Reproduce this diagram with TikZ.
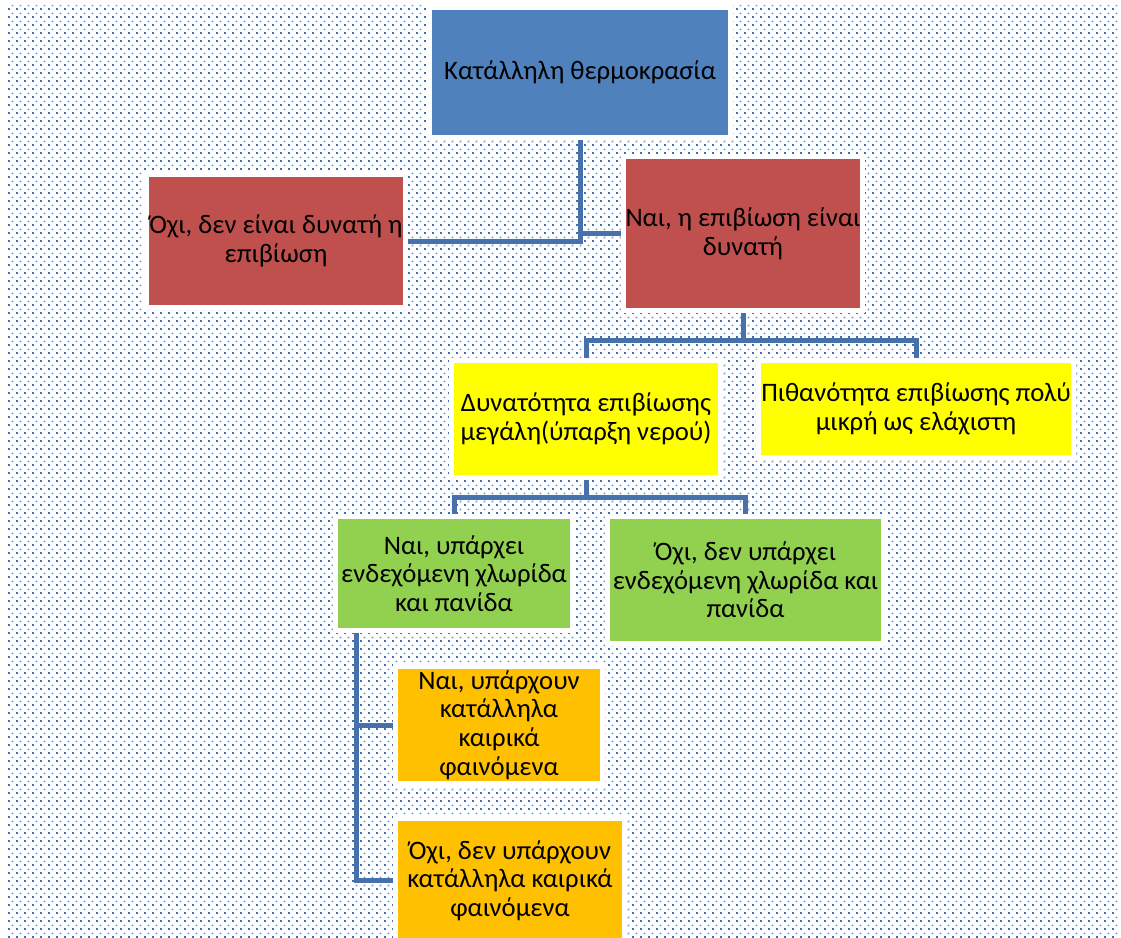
\documentclass[tikz,border=0pt]{standalone}
\usepackage{fontspec}
\setmainfont{Carlito}
\usetikzlibrary{patterns.meta}

\newdimen\px \px=0.75pt

\definecolor{boxblue}{RGB}{79,129,189}
\definecolor{boxred}{RGB}{192,80,77}
\definecolor{boxyellow}{RGB}{255,255,0}
\definecolor{boxgreen}{RGB}{146,208,80}
\definecolor{boxorange}{RGB}{255,192,0}
\definecolor{linkblue}{RGB}{72,112,170}
\definecolor{dotdark}{RGB}{60,110,185}
\definecolor{dotlight}{RGB}{115,155,210}

% dotted paper texture behind the chart
\tikzdeclarepattern{
  name=bgdots, type=colored,
  bounding box={(0pt,0pt) and (6pt,6pt)},
  tile size={(6pt,6pt)},
  code={
    \fill[dotdark] (0pt,0pt) rectangle (1.6pt,1.6pt);
    \fill[dotlight] (3pt,3pt) rectangle (4.5pt,4.5pt);
  }
}

\pgfdeclarelayer{bg}
\pgfdeclarelayer{links}
\pgfsetlayers{bg,links,main}

\begin{document}
\begin{tikzpicture}[x=0.75pt,y=-0.75pt,
  box/.style={draw=white, line width=5\px, inner sep=0pt, align=center,
    text=black, font=\fontsize{20}{21.5}\selectfont},
  link/.style={draw=linkblue, line width=5\px}]
\useasboundingbox (0,0) rectangle (1121,938);

\begin{pgfonlayer}{bg}
  \fill[pattern=bgdots] (6,6) rectangle (1119,937);
\end{pgfonlayer}

% boxes
\node[box, fill=boxblue, minimum width=301\px, minimum height=130\px] (top) at (580,72.5) {Κατάλληλη θερμοκρασία};
\node[box, fill=boxred, minimum width=259\px, minimum height=133\px] (redL) at (276,241) {Όχι, δεν είναι δυνατή η\\επιβίωση};
\node[box, fill=boxred, minimum width=239\px, minimum height=154\px] (redR) at (743,233.5) {Ναι, η επιβίωση είναι\\δυνατή};
\node[box, fill=boxyellow, minimum width=269\px, minimum height=117\px] (yelL) at (586,419) {Δυνατότητα επιβίωσης\\μεγάλη(ύπαρξη νερού)};
\node[box, fill=boxyellow, minimum width=315\px, minimum height=97\px] (yelR) at (916,409) {Πιθανότητα επιβίωσης πολύ\\μικρή ως ελάχιστη};
\node[box, fill=boxgreen, minimum width=237\px, minimum height=114\px] (grL) at (454,573.5) {Ναι, υπάρχει\\ενδεχόμενη χλωρίδα\\και πανίδα};
\node[box, fill=boxgreen, minimum width=276\px, minimum height=127\px] (grR) at (745.5,580) {Όχι, δεν υπάρχει\\ενδεχόμενη χλωρίδα και\\πανίδα};
\node[box, fill=boxorange, minimum width=207\px, minimum height=117\px] (oraT) at (499,725) {Ναι, υπάρχουν\\κατάλληλα\\καιρικά\\φαινόμενα};
\node[box, fill=boxorange, minimum width=229\px, minimum height=124\px] (oraB) at (510,880.5) {Όχι, δεν υπάρχουν\\κατάλληλα καιρικά\\φαινόμενα};

% connectors
\begin{pgfonlayer}{links}
  \draw[link] (top.south) |- (redL.east);
  \draw[link] (top.south |- redR.west) -- (redR.west);

  \path (yelL.north) ++(0,-17.5) coordinate (bus1);
  \draw[link] (redR.south) -- (redR.south |- bus1);
  \draw[link] (yelL.north) -- (bus1) -| (yelR.north);

  \path (grL.north) ++(0,-17) coordinate (bus2);
  \draw[link] (yelL.south) -- (yelL.south |- bus2);
  \draw[link] (grL.north) -- (bus2) -| (grR.north);

  \path (grL.south west) ++(23.5,0) coordinate (stem);
  \draw[link] (stem) |- (oraT.west);
  \draw[link] (stem) |- (oraB.west);
\end{pgfonlayer}
\end{tikzpicture}
\end{document}
